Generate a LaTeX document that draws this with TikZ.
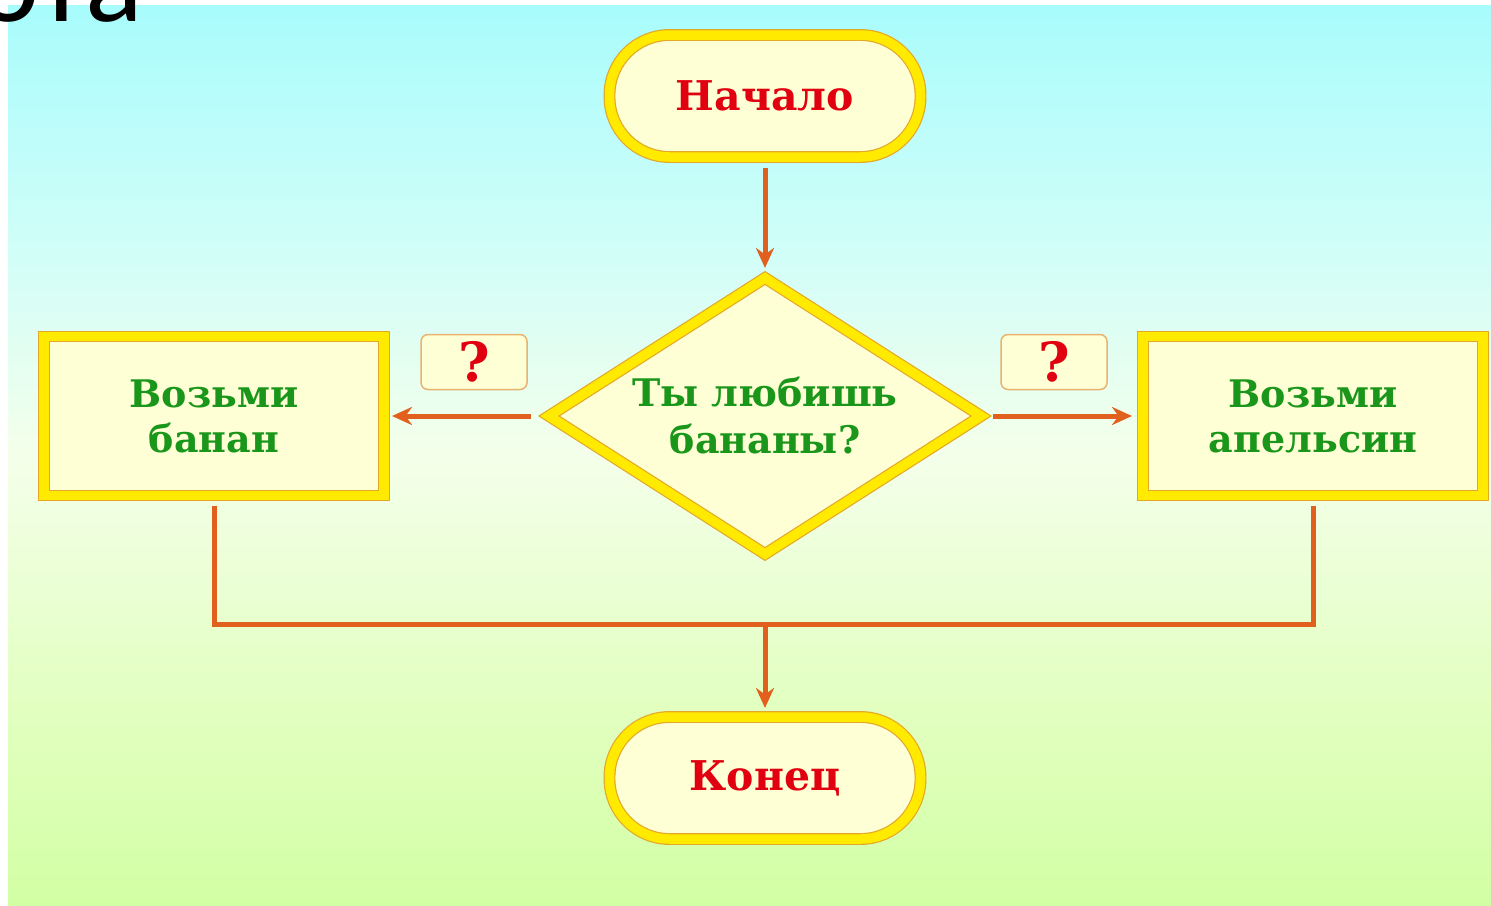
\documentclass[tikz,border=0pt]{standalone}
\usepackage{fontspec}
\setmainfont{DejaVu Serif}
\newfontfamily\titlefont{Carlito}
\usetikzlibrary{shapes.geometric,arrows.meta}
\definecolor{bgtop}{RGB}{168,252,252}
\definecolor{bgh}{RGB}{210,254,248}
\definecolor{bgmid}{RGB}{244,255,234}
\definecolor{bgl}{RGB}{226,255,192}
\definecolor{bgbot}{RGB}{210,255,164}
\definecolor{bandyellow}{RGB}{255,234,0}
\definecolor{gold}{RGB}{228,168,40}
\definecolor{cream}{RGB}{255,255,213}
\definecolor{tanline}{RGB}{232,178,112}
\definecolor{arrowc}{RGB}{226,96,30}
\definecolor{greentxt}{RGB}{26,150,26}
\definecolor{redtxt}{RGB}{224,0,16}
\pgfdeclareverticalshading{bgshade}{100bp}{color(0bp)=(bgbot); color(25bp)=(bgbot); color(36bp)=(bgl); color(50bp)=(bgmid); color(61bp)=(bgh); color(75bp)=(bgtop); color(100bp)=(bgtop)}
\tikzset{
  band/.style={draw=gold, line width=1.2pt, double=bandyellow, double distance=9.5pt, fill=cream, outer sep=0pt, inner sep=0pt},
  term/.style={band, rectangle, rounded corners=60pt, minimum width=311pt, minimum height=122pt, text=redtxt, font=\bfseries\fontsize{41}{41}\selectfont},
  procbox/.style={band, rectangle, minimum width=340pt, minimum height=159pt, text=greentxt, align=center, font=\bfseries\fontsize{38}{45}\selectfont},
  decision/.style={band, diamond, shape aspect=1.565, minimum width=432pt, minimum height=276pt, text=greentxt, align=center, font=\bfseries\fontsize{38}{47}\selectfont},
  qbox/.style={rectangle, rounded corners=7pt, minimum width=106pt, minimum height=55pt, draw=tanline, line width=1.5pt, fill=cream, text=redtxt, outer sep=0pt, inner sep=0pt, font=\bfseries\fontsize{54}{54}\selectfont},
  conn/.style={draw=arrowc, line width=5pt},
  arr/.style={conn, -{Stealth[length=20pt,width=18pt]}}
}
\begin{document}
\begin{tikzpicture}[x=1pt,y=-1pt]
\useasboundingbox (0,0) rectangle (1491,905);
\fill[white] (0,0) rectangle (1491,905);
\shade[shading=bgshade] (8,5) rectangle (1491,905);
\node[anchor=base east, inner sep=0pt, font=\titlefont\fontsize{120}{120}\selectfont] (ttl) at (143,21) {ота};
\node[term] (start) at (765,96) {Начало};
\node[decision] (dec) at (765,416) {Ты любишь\\бананы?};
\node[procbox] (lbox) at (214,416) {Возьми\\банан};
\node[procbox] (rbox) at (1313,416) {Возьми\\апельсин};
\node[qbox] (ql) at (474,362) {?};
\node[qbox] (qr) at (1054,362) {?};
\node[term] (endn) at (765,778) {Конец};
\coordinate (jn) at (765,624);
\draw[arr, shorten <=11pt, shorten >=10pt] (start.south) -- (dec.north);
\draw[arr, shorten <=18pt, shorten >=8pt] (dec.west) -- (lbox.east);
\draw[arr, shorten <=12pt, shorten >=11pt] (dec.east) -- (rbox.west);
\draw[conn, shorten <=10pt, shorten >=10pt] (lbox.south) |- (jn) -| (rbox.south);
\draw[arr, shorten >=9pt] (jn) -- (endn.north);
\end{tikzpicture}
\end{document}
